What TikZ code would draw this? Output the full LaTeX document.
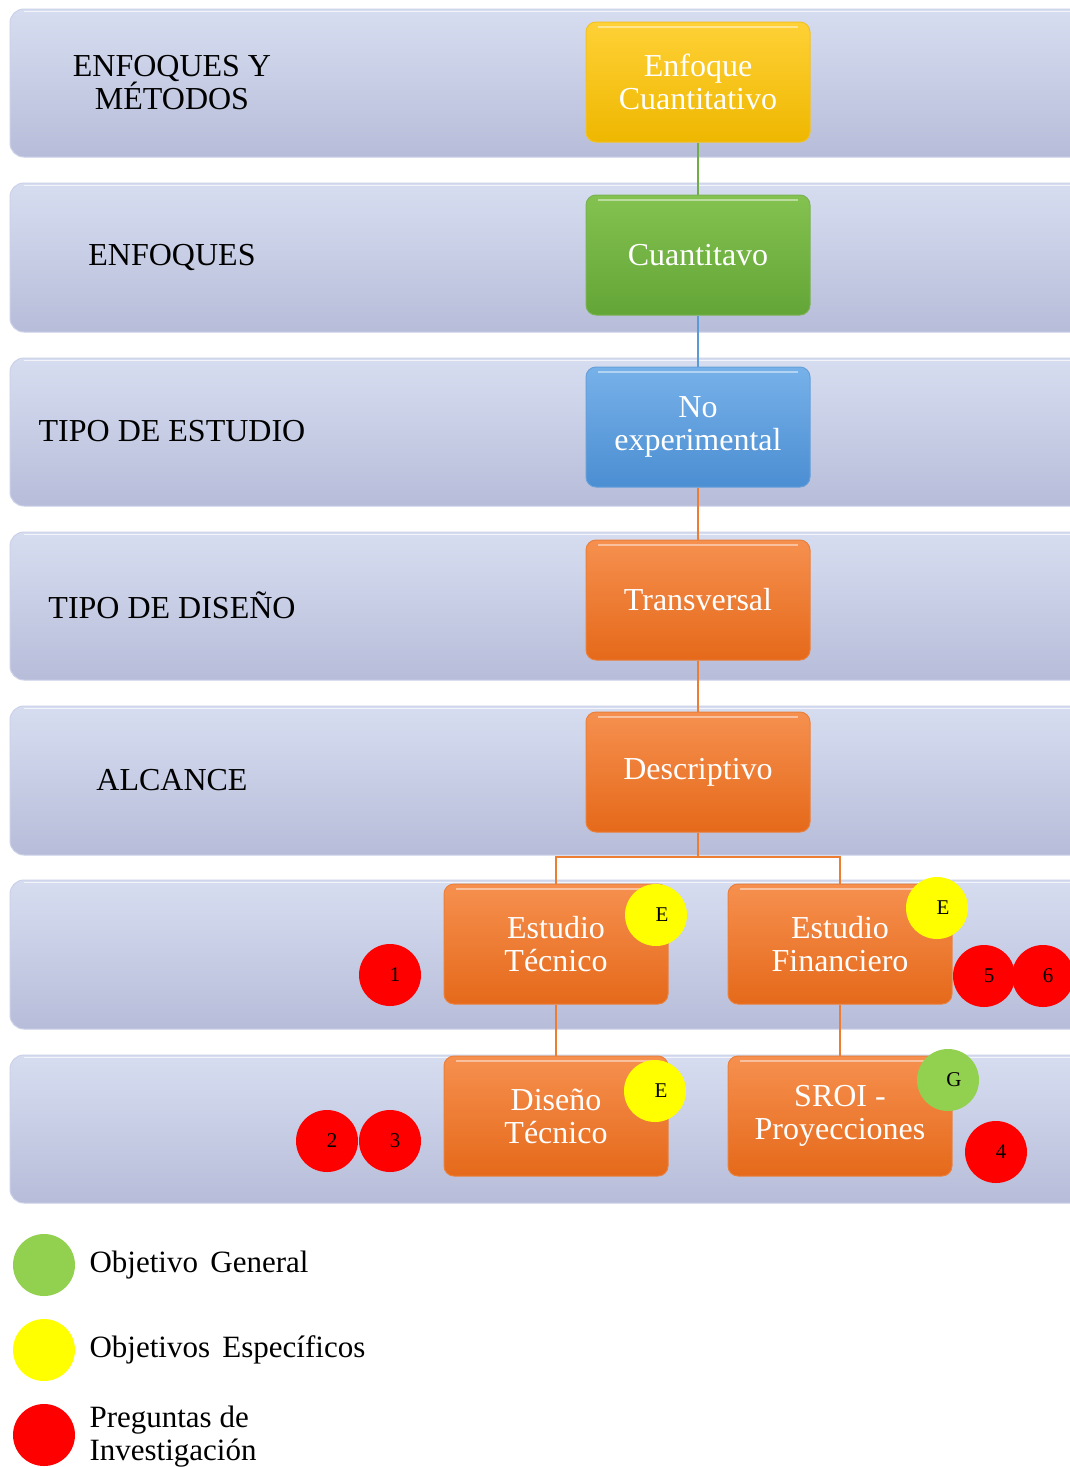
\documentclass[tikz,border=0pt]{standalone}
\usepackage{fontspec}
\setmainfont{Liberation Serif}
\definecolor{bandtop}{HTML}{D7DDF0}
\definecolor{bandbot}{HTML}{B7BDD9}
\definecolor{bandedge}{HTML}{CBD1E8}
\definecolor{ytop}{HTML}{FFD136}
\definecolor{ybot}{HTML}{EEB700}
\definecolor{gtop}{HTML}{84C250}
\definecolor{gbot}{HTML}{63A537}
\definecolor{btop}{HTML}{77B1E9}
\definecolor{bbot}{HTML}{4B8ED2}
\definecolor{otop}{HTML}{F6904F}
\definecolor{obot}{HTML}{E5691A}
\definecolor{lgreen}{HTML}{70AD47}
\definecolor{lblue}{HTML}{5B9BD5}
\definecolor{lorange}{HTML}{ED7D31}
\definecolor{dotgreen}{HTML}{92D050}
\definecolor{dotyellow}{HTML}{FFFF00}
\definecolor{dotred}{HTML}{FF0000}
\pgfdeclarelayer{rows}
\pgfdeclarelayer{links}
\pgfsetlayers{rows,links,main}
\begin{document}
\begin{tikzpicture}[x=1pt,y=-1pt,
  band/.style={rounded corners=14pt, top color=bandtop, bottom color=bandbot,
    draw=bandedge, line width=1pt},
  rowlabel/.style={align=center, text=black, font=\fontsize{32}{33}\selectfont},
  box/.style 2 args={rectangle, rounded corners=10pt, minimum width=224pt,
    minimum height=120pt, inner sep=2pt, align=center, text=white,
    font=\fontsize{32}{33}\selectfont, top color=#1, bottom color=#2,
    draw=#2!85!white, line width=1pt,
    path picture={\draw[white, opacity=.45, line width=2pt]
      ([xshift=12pt,yshift=-5pt]path picture bounding box.north west) --
      ([xshift=-12pt,yshift=-5pt]path picture bounding box.north east);}},
  conn/.style={draw=#1, line width=2.5pt},
  dot/.style={circle, fill=#1, minimum size=62pt, inner sep=0pt,
    font=\fontsize{21}{22}\selectfont, text=black},
  legdot/.style={circle, fill=#1, minimum size=62pt, inner sep=0pt},
  legtext/.style={anchor=west, align=left, text=black,
    font=\fontsize{31}{33}\selectfont},
]
\useasboundingbox (0,0) rectangle (1070,1467);

% background rows, running off the right edge
\begin{pgfonlayer}{rows}
\fill[white] (0,0) rectangle (1070,1467);
\foreach \t/\b in {9/157, 183/332, 358/506, 532/680, 706/855, 880/1029, 1055/1203}{
  \draw[band] (10,\t) rectangle (1090,\b);
  \draw[white, opacity=.7, line width=1.5pt] (24,\t+2.5) -- (1090,\t+2.5);
}
\end{pgfonlayer}

% row titles
\node[rowlabel] (r1) at (172,83) {ENFOQUES Y\\MÉTODOS};
\node[rowlabel] (r2) at (172,257) {ENFOQUES};
\node[rowlabel] (r3) at (172,431) {TIPO DE ESTUDIO};
\node[rowlabel] (r4) at (172,605) {TIPO DE DISEÑO};
\node[rowlabel] (r5) at (172,780) {ALCANCE};

% boxes
\node[box={ytop}{ybot}] (b1) at (698,82) {Enfoque\\Cuantitativo};
\node[box={gtop}{gbot}] (b2) at (698,255) {Cuantitavo};
\node[box={btop}{bbot}] (b3) at (698,427) {No\\experimental};
\node[box={otop}{obot}] (b4) at (698,600) {Transversal};
\node[box={otop}{obot}] (b5) at (698,772) {Descriptivo};
\node[box={otop}{obot}] (b6l) at (556,944) {Estudio\\Técnico};
\node[box={otop}{obot}] (b6r) at (840,944) {Estudio\\Financiero};
\node[box={otop}{obot}] (b7l) at (556,1116) {Diseño\\Técnico};
\node[box={otop}{obot}] (b7r) at (840,1116) {SROI -\\Proyecciones};

% connectors
\coordinate (split) at (698,857);
\begin{pgfonlayer}{links}
\draw[conn=lgreen] (b1.south) -- (b2.north);
\draw[conn=lblue] (b2.south) -- (b3.north);
\draw[conn=lorange] (b3.south) -- (b4.north);
\draw[conn=lorange] (b4.south) -- (b5.north);
\draw[conn=lorange] (b5.south) -- (split) -| (b6l.north);
\draw[conn=lorange] (split) -| (b6r.north);
\draw[conn=lorange] (b6l.south) -- (b7l.north);
\draw[conn=lorange] (b6r.south) -- (b7r.north);
\end{pgfonlayer}

% markers
\node[dot=dotyellow] (e1) at (656,915) {\hspace{12pt}E};
\node[dot=dotyellow] (e2) at (937,908) {\hspace{12pt}E};
\node[dot=dotyellow] (e3) at (655,1091) {\hspace{12pt}E};
\node[dot=dotgreen] (g1) at (948,1080) {\hspace{12pt}G};
\node[dot=dotred] (q1) at (390,975) {\hspace{10pt}1};
\node[dot=dotred] (q5) at (984,976) {\hspace{10pt}5};
\node[dot=dotred] (q6) at (1043,976) {\hspace{10pt}6};
\node[dot=dotred] (q2) at (327,1141) {\hspace{10pt}2};
\node[dot=dotred] (q3) at (390,1141) {\hspace{10pt}3};
\node[dot=dotred] (q4) at (996,1152) {\hspace{10pt}4};

% legend
\node[legdot=dotgreen] (l1) at (44,1265) {};
\node[legdot=dotyellow] (l2) at (44,1350) {};
\node[legdot=dotred] (l3) at (44,1435) {};
\node[legtext] (t1) at (86,1265) {Objetivo\hspace{0.4em}General};
\node[legtext] (t2) at (86,1350) {Objetivos\hspace{0.4em}Específicos};
\node[legtext] (t3) at (86,1437) {Preguntas de\\Investigación};
\end{tikzpicture}
\end{document}
